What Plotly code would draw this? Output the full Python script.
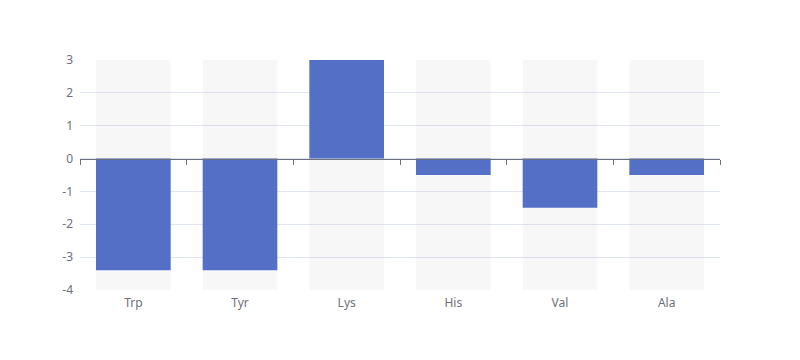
import plotly.graph_objects as go

categories = ["Trp", "Tyr", "Lys", "His", "Val", "Ala"]
values = [-3.4, -3.4, 3, -0.5, -1.5, -0.5]
y_min, y_max = -4, 3
y_ticks = [-4, -3, -2, -1, 0, 1, 2, 3]
y_tick_labels = [str(v) for v in y_ticks]

label_color = "#6E7079"
grid_color = "#E0E6F1"
bar_color = "#5470c6"

fig = go.Figure()
# background bars spanning the whole value axis
fig.add_trace(go.Bar(
    x=categories, y=[y_max - y_min] * len(categories), base=[y_min] * len(categories),
    marker=dict(color="rgba(180,180,180,0.1)", line=dict(width=0)),
    hoverinfo="skip", showlegend=False,
))
fig.add_trace(go.Bar(
    x=categories, y=values,
    marker=dict(color=bar_color, line=dict(width=0)),
    showlegend=False,
))
# axis line drawn at zero with boundary ticks
fig.add_trace(go.Scatter(
    x=categories, y=[0] * len(categories), xaxis="x2", mode="markers",
    marker=dict(opacity=0), hoverinfo="skip", showlegend=False,
))

fig.update_layout(
    width=792, height=352,
    margin=dict(l=72, r=80, t=52, b=70),
    paper_bgcolor="white", plot_bgcolor="white",
    barmode="overlay", bargap=0.3,
    font=dict(family="Noto Sans, DejaVu Sans, sans-serif", size=12, color=label_color),
    xaxis=dict(
        type="category", categoryarray=categories, range=[-0.5, len(categories) - 0.5],
        showline=False, ticks="", showgrid=False, zeroline=False,
        tickfont=dict(color=label_color, size=12), ticklabelstandoff=4,
    ),
    xaxis2=dict(
        type="category", categoryarray=categories, range=[-0.5, len(categories) - 0.5],
        overlaying="x", anchor="free",
        position=(0 - y_min) / (y_max - y_min),
        showline=True, linecolor=label_color, linewidth=1,
        ticks="outside", ticklen=5, tickcolor=label_color, tickwidth=1,
        tickson="boundaries", showticklabels=False, showgrid=False, zeroline=False,
    ),
    yaxis=dict(
        range=[y_min, y_max], tickvals=y_ticks, ticktext=y_tick_labels,
        showgrid=True, gridcolor=grid_color, gridwidth=1,
        zeroline=False, showline=False, ticks="",
        tickfont=dict(color=label_color, size=12), ticklabelstandoff=6,
    ),
)

fig.write_html("out.html")
